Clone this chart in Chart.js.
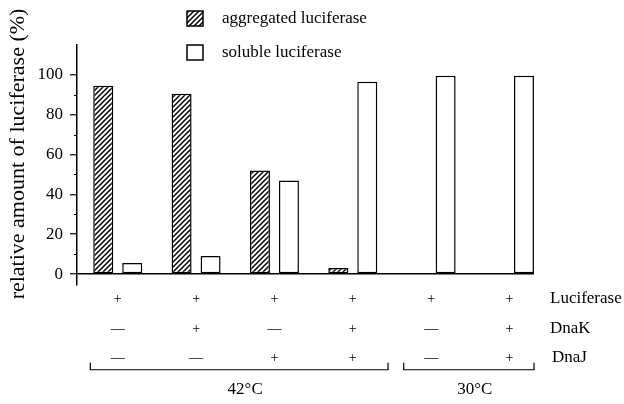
<!DOCTYPE html>
<html>
<head>
<meta charset="utf-8">
<title>Luciferase aggregation</title>
<script src="https://cdn.jsdelivr.net/npm/chart.js@4.4.1/dist/chart.umd.min.js"></script>
<style>
  html, body { margin: 0; padding: 0; background: #fff; }
  #wrap { position: relative; width: 624px; height: 404px; }
</style>
</head>
<body>
<div id="wrap"><canvas id="chart"></canvas></div>
<script>
'use strict';

// ---- data ----
const conditions = [0, 1, 2, 3, 4, 5];
const aggregated = [94.5, 90.5, 52, 3, null, null];
const soluble = [5.5, 9, 47, 96.5, 99.5, 99.5];
const yTicks = [0, 20, 40, 60, 80, 100];
const yMinorTicks = [10, 30, 50, 70, 90];
const rowNames = ['Luciferase', 'DnaK', 'DnaJ'];
const luciferase = ['+', '+', '+', '+', '+', '+'];
const dnaK = ['—', '+', '—', '+', '—', '+'];
const dnaJ = ['—', '—', '+', '+', '—', '+'];
const tempLabels = ['42°C', '30°C'];
const tempGroups = [[0, 3], [4, 5]];
const seriesNames = ['aggregated luciferase', 'soluble luciferase'];
const yTitle = 'relative amount of luciferase (%)';

const SERIF = "'Liberation Serif', 'DejaVu Serif', serif";
const ROW_FONT = 14, ROW_LH = 29.5, ROW_PAD = 0;

function hatchPattern() {
    const c = document.createElement('canvas');
    c.width = c.height = 5;
    const g = c.getContext('2d');
    g.fillStyle = '#fff';
    g.fillRect(0, 0, 5, 5);
    g.strokeStyle = '#000';
    g.lineWidth = 1.5;
    g.beginPath();
    g.moveTo(-1, 6); g.lineTo(6, -1);
    g.moveTo(-1, 1); g.lineTo(1, -1);
    g.moveTo(4, 6); g.lineTo(6, 4);
    g.stroke();
    return g.createPattern(c, 'repeat');
}

const points = (vals) => conditions.map((c, i) => ({ x: c, y: vals[i] }));

// extra drawing: y title, minor ticks, row names, brackets, legend
const figureDecor = {
    id: 'figureDecor',
    afterDraw(chart) {
        const { ctx, scales: { x, y } } = chart;
        ctx.save();
        ctx.fillStyle = '#000';
        ctx.strokeStyle = '#000';

        // y-axis title
        ctx.save();
        ctx.translate(18, 154);
        ctx.rotate(-Math.PI / 2);
        ctx.font = '22px ' + SERIF;
        ctx.textAlign = 'center';
        ctx.textBaseline = 'middle';
        ctx.fillText(yTitle, 0, 0);
        ctx.restore();

        // short minor ticks
        ctx.lineWidth = 1.2;
        ctx.beginPath();
        yMinorTicks.forEach(v => {
            const py = Math.round(y.getPixelForValue(v)) + 0.5;
            ctx.moveTo(x.left - 3, py);
            ctx.lineTo(x.left, py);
        });
        ctx.stroke();

        // row names beside the +/- table
        const row0 = x.top + ROW_PAD + ROW_LH / 2 - 1;
        ctx.font = '17px ' + SERIF;
        ctx.textAlign = 'left';
        ctx.textBaseline = 'middle';
        rowNames.forEach((name, i) => ctx.fillText(name, i === 2 ? 552 : 550, row0 + i * ROW_LH));

        // temperature brackets
        const by = row0 + 2 * ROW_LH + 12;
        ctx.lineWidth = 1.2;
        tempGroups.forEach((grp, i) => {
            const x0 = Math.max(x.getPixelForValue(grp[0] - 0.35), 84);
            const x1 = Math.min(x.getPixelForValue(grp[1] + 0.45), x.right);
            ctx.beginPath();
            ctx.moveTo(x0, by - 7); ctx.lineTo(x0, by); ctx.lineTo(x1, by); ctx.lineTo(x1, by - 7);
            ctx.stroke();
            ctx.font = '17px ' + SERIF;
            ctx.textAlign = 'center';
            ctx.fillText(tempLabels[i], (x0 + x1) / 2 + 6, by + 20);
        });

        // legend
        ctx.font = '17px ' + SERIF;
        ctx.textAlign = 'left';
        chart.data.datasets.forEach((ds, i) => {
            const top = 11 + i * 34;
            ctx.fillStyle = ds.backgroundColor;
            ctx.fillRect(187, top, 16, 15);
            ctx.lineWidth = 1.5;
            ctx.strokeRect(187, top, 16, 15);
            ctx.fillStyle = '#000';
            ctx.fillText(ds.label, 222, top + 8);
        });
        ctx.restore();
    }
};

new Chart(document.getElementById('chart').getContext('2d'), {
    type: 'bar',
    data: {
        datasets: [
            { label: seriesNames[0], data: points(aggregated), backgroundColor: hatchPattern() },
            { label: seriesNames[1], data: points(soluble), backgroundColor: '#fff' }
        ]
    },
    options: {
        responsive: true,
        maintainAspectRatio: false,
        animation: false,
        layout: { padding: { top: 45, right: 90, bottom: 0, left: 0 } },
        datasets: {
            bar: {
                borderColor: '#000',
                borderWidth: 1.5,
                borderSkipped: false,
                categoryPercentage: 0.74,
                barPercentage: 0.69
            }
        },
        plugins: {
            legend: { display: false },
            tooltip: { enabled: false }
        },
        scales: {
            x: {
                type: 'linear',
                offset: false,
                min: -0.52,
                max: 5.313,
                afterBuildTicks: (s) => { s.ticks = conditions.map(v => ({ value: v })); },
                afterFit: (s) => { s.height = 119; },
                grid: { display: false, drawTicks: false },
                border: { display: false },
                ticks: {
                    autoSkip: false,
                    maxRotation: 0,
                    minRotation: 0,
                    padding: ROW_PAD,
                    color: '#000',
                    font: { family: SERIF, size: ROW_FONT, lineHeight: ROW_LH / ROW_FONT },
                    callback: (v) => [luciferase[v], dnaK[v], dnaJ[v]]
                }
            },
            y: {
                min: -5.5,
                max: 115,
                afterBuildTicks: (s) => {
                    s.ticks = yTicks.concat(yMinorTicks).sort((a, b) => a - b).map(v => ({ value: v }));
                },
                afterFit: (s) => { s.width = 77; },
                border: { display: true, color: '#000', width: 1.5 },
                grid: {
                    color: (c) => (c.tick && c.tick.value === 0 ? '#000' : 'rgba(0,0,0,0)'),
                    lineWidth: 1.5,
                    tickLength: 7,
                    tickWidth: 1.2,
                    tickColor: (c) => (yTicks.includes(c.tick.value) ? '#000' : 'rgba(0,0,0,0)')
                },
                ticks: {
                    padding: 7,
                    color: '#000',
                    font: { family: SERIF, size: 17 },
                    callback: (v) => (yTicks.includes(v) ? String(v) : '')
                }
            }
        }
    },
    plugins: [figureDecor]
});
</script>
</body>
</html>
